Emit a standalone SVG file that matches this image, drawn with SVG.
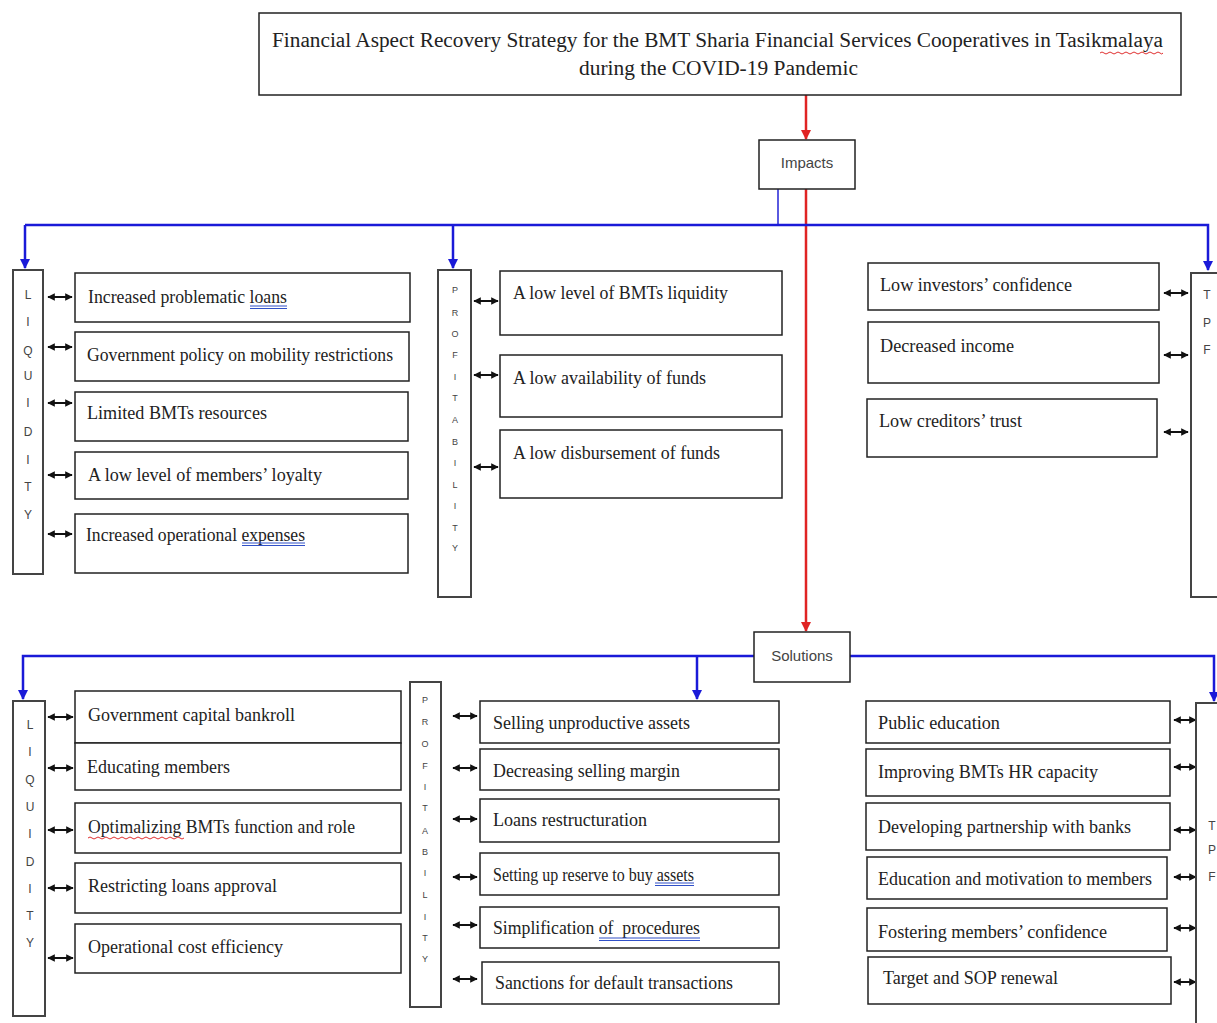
<svg xmlns="http://www.w3.org/2000/svg" width="1217" height="1023" viewBox="0 0 1217 1023">
<style>
.bg{fill:#fff}
.box{fill:#fff;stroke:#222;stroke-width:1.5}
.vbox{fill:#fff;stroke:#444;stroke-width:2}
.t{font-family:"Liberation Serif","Times New Roman",serif;font-size:18px;fill:#222}
.tt{font-family:"Liberation Serif","Times New Roman",serif;font-size:20px;fill:#222}
.s{font-family:"Liberation Sans",Arial,sans-serif;font-size:15px;fill:#444;text-anchor:middle}
.l1{font-family:"Liberation Sans",Arial,sans-serif;font-size:12px;fill:#444;text-anchor:middle}
.l2{font-family:"Liberation Sans",Arial,sans-serif;font-size:9px;fill:#444;text-anchor:middle}
.blue{stroke:#1a1ad8;stroke-width:2.5;fill:none}
.blue2{stroke:#5a5ae0;stroke-width:2;fill:none}
.red{stroke:#e02424;stroke-width:2.5;fill:none}
.dbl{stroke:#111;stroke-width:2;marker-start:url(#ak);marker-end:url(#ak)}
.ul{stroke:#3050c8;stroke-width:1.2;fill:none}
.wv{stroke:#e03030;stroke-width:1;fill:none}
</style>
<defs>
<marker id="ab" viewBox="0 0 10 10" refX="9" refY="5" markerWidth="4" markerHeight="4" orient="auto"><path d="M0,0 L10,5 L0,10 z" fill="#1a1ad8"/></marker>
<marker id="ar" viewBox="0 0 10 10" refX="9" refY="5" markerWidth="4" markerHeight="4" orient="auto"><path d="M0,0 L10,5 L0,10 z" fill="#e02424"/></marker>
<marker id="ak" viewBox="0 0 10 10" refX="9" refY="5" markerWidth="3.8" markerHeight="3.8" orient="auto-start-reverse"><path d="M0,0 L10,5 L0,10 z" fill="#111"/></marker>
</defs>
<rect class="bg" x="0" y="0" width="1217" height="1023"/>

<g id="connectors">
  <line class="red" x1="806" y1="95" x2="806" y2="139" marker-end="url(#ar)"/>
  <line class="red" x1="806" y1="189" x2="806" y2="631" marker-end="url(#ar)"/>
  <line class="blue2" x1="778" y1="189" x2="778" y2="225"/>
  <polyline class="blue" points="25,225 1208,225 1208,270" marker-end="url(#ab)"/>
  <line class="blue" x1="25" y1="225" x2="25" y2="268" marker-end="url(#ab)"/>
  <line class="blue" x1="453" y1="225" x2="453" y2="268" marker-end="url(#ab)"/>
  <polyline class="blue" points="754,656 23,656 23,699" marker-end="url(#ab)"/>
  <line class="blue" x1="697" y1="656" x2="697" y2="699" marker-end="url(#ab)"/>
  <polyline class="blue" points="850,656 1214,656 1214,701" marker-end="url(#ab)"/>
  <!-- impacts liquidity -->
  <line class="dbl" x1="48" y1="297" x2="72" y2="297"/>
  <line class="dbl" x1="48" y1="347" x2="72" y2="347"/>
  <line class="dbl" x1="48" y1="403" x2="72" y2="403"/>
  <line class="dbl" x1="48" y1="475" x2="72" y2="475"/>
  <line class="dbl" x1="48" y1="534" x2="72" y2="534"/>
  <!-- impacts profitability -->
  <line class="dbl" x1="474" y1="301" x2="498" y2="301"/>
  <line class="dbl" x1="474" y1="375" x2="498" y2="375"/>
  <line class="dbl" x1="474" y1="467" x2="498" y2="467"/>
  <!-- impacts right -->
  <line class="dbl" x1="1164" y1="293" x2="1188" y2="293"/>
  <line class="dbl" x1="1164" y1="355" x2="1188" y2="355"/>
  <line class="dbl" x1="1164" y1="432" x2="1188" y2="432"/>
  <!-- solutions liquidity -->
  <line class="dbl" x1="48" y1="717" x2="73" y2="717"/>
  <line class="dbl" x1="48" y1="768" x2="73" y2="768"/>
  <line class="dbl" x1="48" y1="830" x2="73" y2="830"/>
  <line class="dbl" x1="48" y1="888" x2="73" y2="888"/>
  <line class="dbl" x1="48" y1="958" x2="73" y2="958"/>
  <!-- solutions profitability -->
  <line class="dbl" x1="453" y1="716" x2="477" y2="716"/>
  <line class="dbl" x1="453" y1="768" x2="477" y2="768"/>
  <line class="dbl" x1="453" y1="819" x2="477" y2="819"/>
  <line class="dbl" x1="453" y1="877" x2="477" y2="877"/>
  <line class="dbl" x1="453" y1="925" x2="477" y2="925"/>
  <line class="dbl" x1="453" y1="979" x2="477" y2="979"/>
  <!-- solutions right -->
  <line class="dbl" x1="1174" y1="720" x2="1196" y2="720"/>
  <line class="dbl" x1="1174" y1="767" x2="1196" y2="767"/>
  <line class="dbl" x1="1174" y1="830" x2="1196" y2="830"/>
  <line class="dbl" x1="1174" y1="877" x2="1196" y2="877"/>
  <line class="dbl" x1="1174" y1="928" x2="1196" y2="928"/>
  <line class="dbl" x1="1174" y1="982" x2="1196" y2="982"/>
</g>

<g id="title">
  <rect class="box" x="259" y="13" width="922" height="82"/>
  <text class="tt" x="272" y="47" textLength="891" lengthAdjust="spacingAndGlyphs">Financial Aspect Recovery Strategy for the BMT Sharia Financial Services Cooperatives in Tasikmalaya</text>
  <text class="tt" x="579" y="75" textLength="279" lengthAdjust="spacingAndGlyphs">during the COVID-19 Pandemic</text>
  <path class="wv" d="M1100,53 q2,-2 4,0 t4,0 t4,0 t4,0 t4,0 t4,0 t4,0 t4,0 t4,0 t4,0 t4,0 t4,0 t4,0 t4,0 t4,0 t3,0"/>
</g>

<g id="impacts">
  <rect class="box" x="759" y="140" width="96" height="49"/>
  <text class="s" x="807" y="168">Impacts</text>
</g>
<g id="solutions">
  <rect class="box" x="754" y="632" width="96" height="50"/>
  <text class="s" x="802" y="661">Solutions</text>
</g>

<g id="imp-liquidity">
  <rect class="vbox" x="13" y="270" width="30" height="304"/>
  <text class="l1" x="28" y="299">L</text><text class="l1" x="28" y="326">I</text><text class="l1" x="28" y="355">Q</text>
  <text class="l1" x="28" y="380">U</text><text class="l1" x="28" y="407">I</text><text class="l1" x="28" y="436">D</text>
  <text class="l1" x="28" y="464">I</text><text class="l1" x="28" y="491">T</text><text class="l1" x="28" y="519">Y</text>
</g>
<g id="imp-l1"><rect class="box" x="75" y="273" width="335" height="49"/><text class="t" x="88" y="303" textLength="199" lengthAdjust="spacingAndGlyphs">Increased problematic loans</text><line class="ul" x1="250" y1="306" x2="287" y2="306"/><line class="ul" x1="250" y1="308.5" x2="287" y2="308.5"/></g>
<g id="imp-l2"><rect class="box" x="75" y="332" width="334" height="49"/><text class="t" x="87" y="361" textLength="306" lengthAdjust="spacingAndGlyphs">Government policy on mobility restrictions</text></g>
<g id="imp-l3"><rect class="box" x="75" y="392" width="333" height="49"/><text class="t" x="87" y="419" textLength="180" lengthAdjust="spacingAndGlyphs">Limited BMTs resources</text></g>
<g id="imp-l4"><rect class="box" x="75" y="452" width="333" height="47"/><text class="t" x="88" y="481" textLength="234" lengthAdjust="spacingAndGlyphs">A low level of members’ loyalty</text></g>
<g id="imp-l5"><rect class="box" x="75" y="514" width="333" height="59"/><text class="t" x="86" y="541" textLength="219" lengthAdjust="spacingAndGlyphs">Increased operational expenses</text><line class="ul" x1="242" y1="543" x2="305" y2="543"/><line class="ul" x1="242" y1="545.5" x2="305" y2="545.5"/></g>

<g id="imp-profitability">
  <rect class="vbox" x="438" y="270" width="33" height="327"/>
  <text class="l2" x="455" y="293">P</text><text class="l2" x="455" y="316">R</text><text class="l2" x="455" y="337">O</text>
  <text class="l2" x="455" y="358">F</text><text class="l2" x="455" y="380">I</text><text class="l2" x="455" y="401">T</text>
  <text class="l2" x="455" y="423">A</text><text class="l2" x="455" y="445">B</text><text class="l2" x="455" y="466">I</text>
  <text class="l2" x="455" y="488">L</text><text class="l2" x="455" y="509">I</text><text class="l2" x="455" y="531">T</text>
  <text class="l2" x="455" y="551">Y</text>
</g>
<g id="imp-p1"><rect class="box" x="500" y="271" width="282" height="64"/><text class="t" x="513" y="299" textLength="215" lengthAdjust="spacingAndGlyphs">A low level of BMTs liquidity</text></g>
<g id="imp-p2"><rect class="box" x="500" y="355" width="282" height="62"/><text class="t" x="513" y="384" textLength="193" lengthAdjust="spacingAndGlyphs">A low availability of funds</text></g>
<g id="imp-p3"><rect class="box" x="500" y="430" width="282" height="68"/><text class="t" x="513" y="459" textLength="207" lengthAdjust="spacingAndGlyphs">A low disbursement of funds</text></g>

<g id="imp-r1"><rect class="box" x="868" y="263" width="291" height="47"/><text class="t" x="880" y="291" textLength="192" lengthAdjust="spacingAndGlyphs">Low investors’ confidence</text></g>
<g id="imp-r2"><rect class="box" x="868" y="322" width="291" height="61"/><text class="t" x="880" y="352" textLength="134" lengthAdjust="spacingAndGlyphs">Decreased income</text></g>
<g id="imp-r3"><rect class="box" x="867" y="399" width="290" height="58"/><text class="t" x="879" y="427" textLength="143" lengthAdjust="spacingAndGlyphs">Low creditors’ trust</text></g>
<g id="imp-tpf">
  <rect class="vbox" x="1191" y="273" width="40" height="324"/>
  <text class="l1" x="1207" y="299">T</text><text class="l1" x="1207" y="327">P</text><text class="l1" x="1207" y="354">F</text>
</g>

<g id="sol-liquidity">
  <rect class="vbox" x="13" y="701" width="32" height="315"/>
  <text class="l1" x="30" y="729">L</text><text class="l1" x="30" y="756">I</text><text class="l1" x="30" y="784">Q</text>
  <text class="l1" x="30" y="811">U</text><text class="l1" x="30" y="838">I</text><text class="l1" x="30" y="866">D</text>
  <text class="l1" x="30" y="893">I</text><text class="l1" x="30" y="920">T</text><text class="l1" x="30" y="947">Y</text>
</g>
<g id="sol-l1"><rect class="box" x="75" y="691" width="326" height="52"/><text class="t" x="88" y="721" textLength="207" lengthAdjust="spacingAndGlyphs">Government capital bankroll</text></g>
<g id="sol-l2"><rect class="box" x="75" y="743" width="326" height="47"/><text class="t" x="87" y="773" textLength="143" lengthAdjust="spacingAndGlyphs">Educating members</text></g>
<g id="sol-l3"><rect class="box" x="75" y="803" width="326" height="50"/><text class="t" x="88" y="833" textLength="267" lengthAdjust="spacingAndGlyphs">Optimalizing BMTs function and role</text><path class="wv" d="M88,838 q2,-2 4,0 t4,0 t4,0 t4,0 t4,0 t4,0 t4,0 t4,0 t4,0 t4,0 t4,0 t4,0 t4,0 t4,0 t4,0 t4,0 t4,0 t4,0 t4,0 t4,0 t4,0 t4,0 t4,0 t4,0"/></g>
<g id="sol-l4"><rect class="box" x="75" y="863" width="326" height="50"/><text class="t" x="88" y="892" textLength="189" lengthAdjust="spacingAndGlyphs">Restricting loans approval</text></g>
<g id="sol-l5"><rect class="box" x="75" y="924" width="326" height="49"/><text class="t" x="88" y="953" textLength="195" lengthAdjust="spacingAndGlyphs">Operational cost efficiency</text></g>

<g id="sol-profitability">
  <rect class="vbox" x="410" y="682" width="31" height="325"/>
  <text class="l2" x="425" y="703">P</text><text class="l2" x="425" y="725">R</text><text class="l2" x="425" y="747">O</text>
  <text class="l2" x="425" y="769">F</text><text class="l2" x="425" y="790">I</text><text class="l2" x="425" y="811">T</text>
  <text class="l2" x="425" y="834">A</text><text class="l2" x="425" y="855">B</text><text class="l2" x="425" y="876">I</text>
  <text class="l2" x="425" y="898">L</text><text class="l2" x="425" y="920">I</text><text class="l2" x="425" y="941">T</text>
  <text class="l2" x="425" y="962">Y</text>
</g>
<g id="sol-p1"><rect class="box" x="480" y="701" width="299" height="42"/><text class="t" x="493" y="729" textLength="197" lengthAdjust="spacingAndGlyphs">Selling unproductive assets</text></g>
<g id="sol-p2"><rect class="box" x="480" y="749" width="299" height="41"/><text class="t" x="493" y="777" textLength="187" lengthAdjust="spacingAndGlyphs">Decreasing selling margin</text></g>
<g id="sol-p3"><rect class="box" x="480" y="799" width="299" height="43"/><text class="t" x="493" y="826" textLength="154" lengthAdjust="spacingAndGlyphs">Loans restructuration</text></g>
<g id="sol-p4"><rect class="box" x="480" y="853" width="299" height="42"/><text class="t" x="493" y="881" font-size="16" textLength="201" lengthAdjust="spacingAndGlyphs">Setting up reserve to buy assets</text><line class="ul" x1="655" y1="883" x2="694" y2="883"/><line class="ul" x1="655" y1="885.5" x2="694" y2="885.5"/></g>
<g id="sol-p5"><rect class="box" x="480" y="907" width="299" height="41"/><text class="t" x="493" y="934" xml:space="preserve" textLength="207" lengthAdjust="spacingAndGlyphs">Simplification of  procedures</text><line class="ul" x1="599" y1="938" x2="700" y2="938"/><line class="ul" x1="599" y1="940.5" x2="700" y2="940.5"/></g>
<g id="sol-p6"><rect class="box" x="482" y="962" width="297" height="42"/><text class="t" x="495" y="989" textLength="238" lengthAdjust="spacingAndGlyphs">Sanctions for default transactions</text></g>

<g id="sol-r1"><rect class="box" x="866" y="701" width="304" height="42"/><text class="t" x="878" y="729" textLength="122" lengthAdjust="spacingAndGlyphs">Public education</text></g>
<g id="sol-r2"><rect class="box" x="866" y="749" width="304" height="47"/><text class="t" x="878" y="778" textLength="220" lengthAdjust="spacingAndGlyphs">Improving BMTs HR capacity</text></g>
<g id="sol-r3"><rect class="box" x="866" y="803" width="304" height="47"/><text class="t" x="878" y="833" textLength="253" lengthAdjust="spacingAndGlyphs">Developing partnership with banks</text></g>
<g id="sol-r4"><rect class="box" x="867" y="857" width="300" height="42"/><text class="t" x="878" y="885" textLength="274" lengthAdjust="spacingAndGlyphs">Education and motivation to members</text></g>
<g id="sol-r5"><rect class="box" x="867" y="908" width="300" height="43"/><text class="t" x="878" y="938" textLength="229" lengthAdjust="spacingAndGlyphs">Fostering members’ confidence</text></g>
<g id="sol-r6"><rect class="box" x="868" y="957" width="303" height="47"/><text class="t" x="883" y="984" textLength="175" lengthAdjust="spacingAndGlyphs">Target and SOP renewal</text></g>
<g id="sol-tpf">
  <rect class="vbox" x="1196" y="703" width="40" height="330"/>
  <text class="l1" x="1212" y="830">T</text><text class="l1" x="1212" y="854">P</text><text class="l1" x="1212" y="881">F</text>
</g>
</svg>
